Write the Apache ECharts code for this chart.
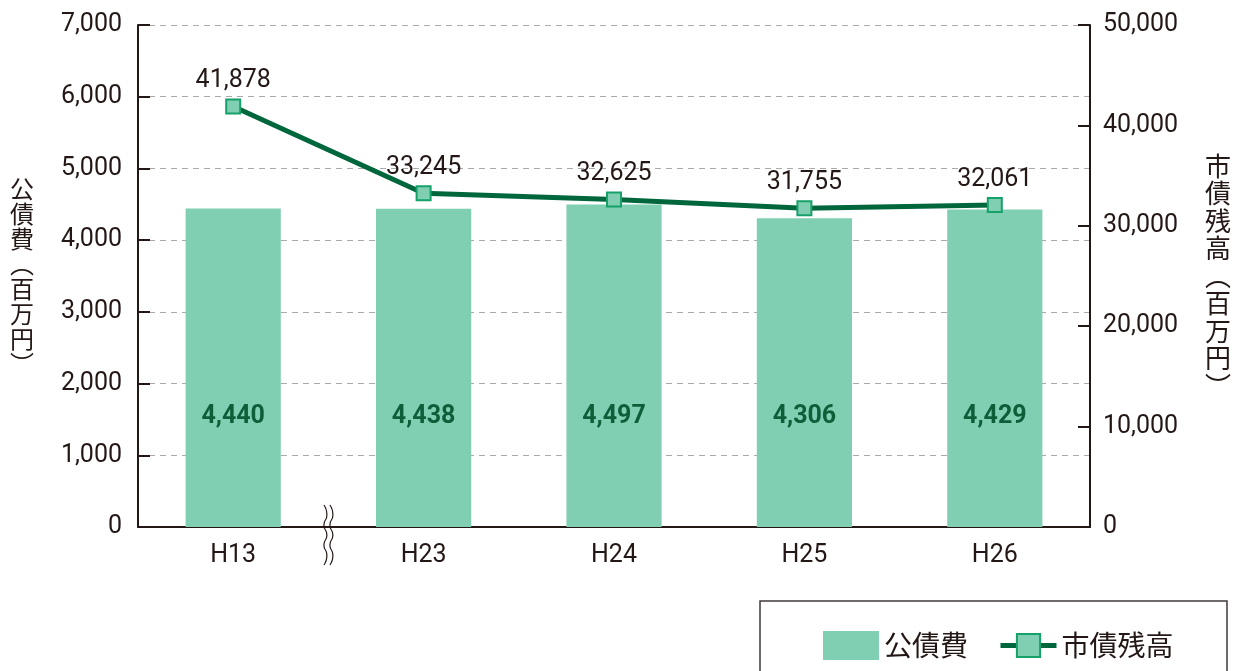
<!DOCTYPE html>
<html>
<head>
<meta charset="utf-8">
<script src="https://cdn.jsdelivr.net/npm/echarts@6/dist/echarts.min.js"></script>
<style>
  html, body { margin: 0; padding: 0; background: #fff; }
  #chart { width: 1233px; height: 671px; }
</style>
</head>
<body>
<div id="chart"></div>
<script>
var categories = ['H13', 'H23', 'H24', 'H25', 'H26'];
var kousaihi = [4440, 4438, 4497, 4306, 4429];      // 公債費
var shisaiZandaka = [41878, 33245, 32625, 31755, 32061]; // 市債残高

var numFont = '"Roboto", sans-serif';
var cjkFont = '"Noto Sans CJK JP", sans-serif';
var ink = '#231815';

function fmt(v) { return v.toLocaleString('en-US'); }
function vert(s) { return s.split('').join('\n'); }

var myChart = echarts.init(document.getElementById('chart'));

myChart.setOption({
    backgroundColor: '#fff',
    animation: false,
    grid: {
        left: 138,
        right: 143,
        top: 25,
        bottom: 144,
        outerBoundsMode: 'none'
    },
    legend: {
        left: 818,
        top: 626,
        itemWidth: 56,
        itemHeight: 29,
        itemGap: 30,
        textStyle: { fontFamily: cjkFont, fontSize: 28, color: ink },
        data: [
            { name: '公債費', icon: 'rect' },
            { name: '市債残高', lineStyle: { width: 5 } }
        ]
    },
    xAxis: {
        type: 'category',
        data: categories,
        axisTick: { show: false },
        axisLine: { lineStyle: { color: ink, width: 2 } },
        axisLabel: { fontFamily: numFont, fontSize: 25, color: ink, margin: 16 }
    },
    yAxis: [{
        type: 'value',
        min: 0,
        max: 7000,
        interval: 1000,
        name: vert('公債費︵百万円︶'),
        nameLocation: 'middle',
        nameRotate: 0,
        nameGap: 104,
        nameTextStyle: { fontFamily: cjkFont, fontSize: 24, color: ink, lineHeight: 25, padding: [0, 0, 70, 0] },
        axisLine: { show: true, lineStyle: { color: ink, width: 2 } },
        axisTick: { show: true, inside: true, length: 12, lineStyle: { color: ink, width: 2 } },
        axisLabel: { fontFamily: numFont, fontSize: 25, color: ink, margin: 16, formatter: fmt },
        splitLine: { lineStyle: { color: '#aaa', type: [6, 5], width: 1 } }
    }, {
        type: 'value',
        min: 0,
        max: 50000,
        interval: 10000,
        position: 'right',
        name: vert('市債残高︵百万円︶'),
        nameLocation: 'middle',
        nameRotate: 0,
        nameGap: 115,
        nameTextStyle: { fontFamily: cjkFont, fontSize: 26, color: ink, lineHeight: 27.5, padding: [0, 0, 66, 0] },
        axisLine: { show: true, lineStyle: { color: ink, width: 2 } },
        axisTick: { show: true, inside: true, length: 12, lineStyle: { color: ink, width: 2 } },
        axisLabel: { fontFamily: numFont, fontSize: 25, color: ink, margin: 13, formatter: fmt },
        splitLine: { show: false }
    }],
    series: [{
        name: '公債費',
        type: 'bar',
        yAxisIndex: 0,
        barWidth: '50%',
        itemStyle: { color: '#80cfb2' },
        label: {
            show: true,
            position: 'insideBottom',
            distance: 98,
            fontFamily: numFont,
            fontWeight: 'bold',
            fontSize: 25,
            color: '#0e5e3a',
            formatter: function (p) { return fmt(p.value); }
        },
        data: kousaihi
    }, {
        name: '市債残高',
        type: 'line',
        yAxisIndex: 1,
        symbol: 'rect',
        symbolSize: 14,
        lineStyle: { color: '#00673c', width: 5 },
        itemStyle: { color: '#80cfb2', borderColor: '#16a06a', borderWidth: 2 },
        label: {
            show: true,
            position: 'top',
            distance: 5,
            fontFamily: numFont,
            fontSize: 25,
            color: ink,
            formatter: function (p) { return fmt(p.value); }
        },
        z: 5,
        data: shisaiZandaka
    }]
});

// 波線（軸の省略記号）と凡例の枠
var c0 = myChart.convertToPixel({ xAxisIndex: 0 }, categories[0]);
var c1 = myChart.convertToPixel({ xAxisIndex: 0 }, categories[1]);
var bx = (c0 + c1) / 2;
var baseY = myChart.convertToPixel({ yAxisIndex: 0 }, 0);

function wave(x0) {
    var pts = [];
    for (var i = 0; i <= 6; i++) {
        pts.push([x0 + (i % 2 === 0 ? -1.5 : 1.5), baseY - 22 + i * 10]);
    }
    return pts;
}

myChart.setOption({
    graphic: [{
        type: 'polyline',
        shape: { points: wave(bx - 3), smooth: 0.6 },
        style: { stroke: ink, lineWidth: 1.2, fill: null },
        z: 10
    }, {
        type: 'polyline',
        shape: { points: wave(bx + 3), smooth: 0.6 },
        style: { stroke: ink, lineWidth: 1.2, fill: null },
        z: 10
    }, {
        type: 'rect',
        shape: { x: 760, y: 601, width: 467, height: 90 },
        style: { stroke: '#3e3a39', lineWidth: 1.5, fill: null },
        z: 1
    }]
});
</script>
</body>
</html>
